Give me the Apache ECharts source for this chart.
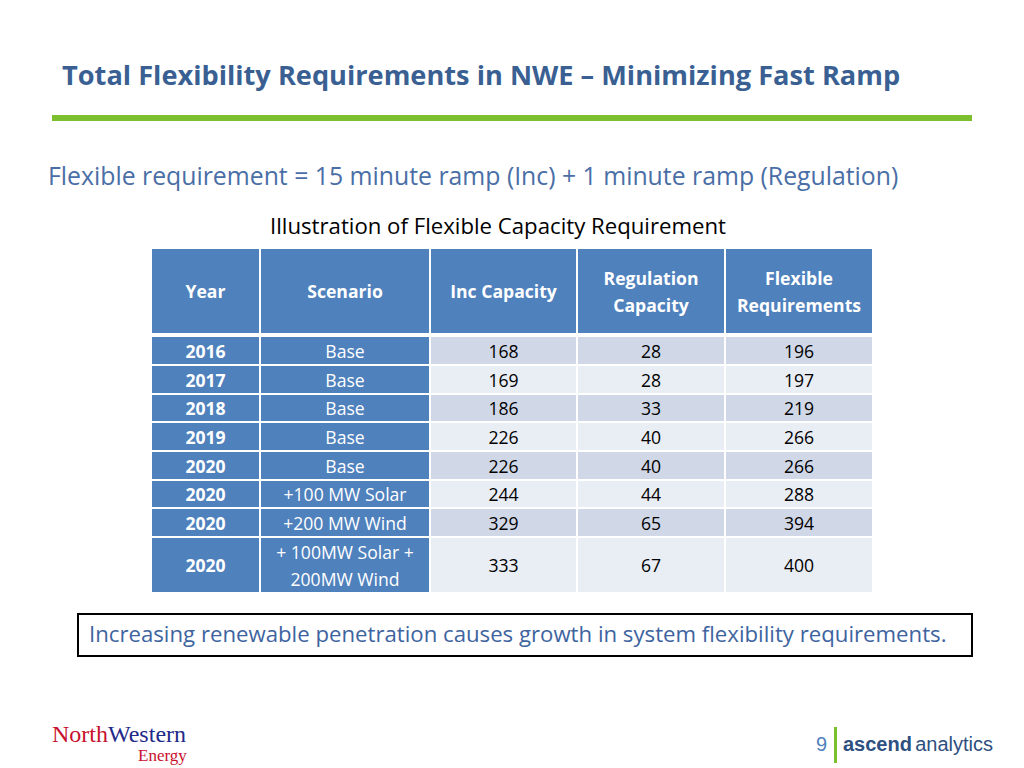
<!DOCTYPE html>
<html><head><meta charset="utf-8">
<script src="https://cdn.jsdelivr.net/npm/echarts@6/dist/echarts.min.js"></script>
<style>html,body{margin:0;padding:0;background:#fff}#c{width:1024px;height:768px}</style>
</head><body><div id="c"></div>
<script>
// ---- data ----
const headers = ['Year', 'Scenario', 'Inc Capacity', 'Regulation\nCapacity', 'Flexible\nRequirements'];
const years = ['2016', '2017', '2018', '2019', '2020', '2020', '2020', '2020'];
const scenarios = ['Base', 'Base', 'Base', 'Base', 'Base', '+100 MW Solar', '+200 MW Wind', '+ 100MW Solar +\n200MW Wind'];
const incCapacity = [168, 169, 186, 226, 226, 244, 329, 333];
const regulationCapacity = [28, 28, 33, 40, 40, 44, 65, 67];
const flexibleRequirements = [196, 197, 219, 266, 266, 288, 394, 400];

// ---- layout (table units) ----
const colEdges = [0, 108, 278, 425, 573, 720];
const rowEdges = [0, 84, 88, 116, 145, 173, 202, 231, 259, 288, 343]; // header: 0-84, data rows from 88

const FONT = '"Open Sans", Lato, sans-serif';
const BLUE = '#4f81bd';
const DARK = '#d0d8e8';
const LIGHT = '#e9edf4';

const cells = [];
headers.forEach((h, c) => cells.push({ value: [c, -1], text: h, kind: 'head' }));
years.forEach((y, r) => {
  const vals = [y, scenarios[r], incCapacity[r], regulationCapacity[r], flexibleRequirements[r]];
  vals.forEach((v, c) => cells.push({ value: [c, r], text: String(v), kind: c === 0 ? 'year' : (c === 1 ? 'scen' : 'num'), row: r }));
});

function rowSpan(r) {
  if (r === -1) return [rowEdges[0], rowEdges[1]];
  return [rowEdges[r + 2], rowEdges[r + 3]];
}

const chart = echarts.init(document.getElementById('c'), null, { renderer: 'svg' });
chart.setOption({
  backgroundColor: '#fff',
  animation: false,
  grid: { left: 152, top: 249, width: 720, height: 343 },
  xAxis: { type: 'value', min: 0, max: 720, show: false },
  yAxis: { type: 'value', min: 0, max: 343, inverse: true, show: false },
  series: [{
    type: 'custom',
    data: cells,
    renderItem: function (params, api) {
      const d = cells[params.dataIndex];
      const c = d.value[0], r = d.value[1];
      const [y0, y1] = rowSpan(r);
      const p0 = api.coord([colEdges[c], y0]);
      const p1 = api.coord([colEdges[c + 1], y1]);
      const gap = 1;
      const x = p0[0] + (c === 0 ? 0 : gap), w = p1[0] - p0[0] - (c === 0 ? 0 : gap) - (c === 4 ? 0 : gap);
      const y = p0[1] + (r <= 0 ? 0 : gap), h = p1[1] - p0[1] - (r <= 0 ? 0 : gap) - (r === 7 || r === -1 ? 0 : gap);
      let fill, color = '#000', weight = 'normal';
      if (d.kind === 'head') { fill = BLUE; color = '#fff'; weight = 'bold'; }
      else if (d.kind === 'year') { fill = BLUE; color = '#fff'; weight = 'bold'; }
      else if (d.kind === 'scen') { fill = BLUE; color = '#fff'; }
      else { fill = (r % 2 === 0) ? DARK : LIGHT; }
      return {
        type: 'group',
        children: [
          { type: 'rect', shape: { x: x, y: y, width: w, height: h }, style: { fill: fill } },
          { type: 'text', x: x + w / 2, y: y + h / 2,
            style: { text: d.text, fill: color, fontFamily: FONT, fontSize: 17.6, fontWeight: weight,
                     align: 'center', verticalAlign: 'middle', lineHeight: 27 } }
        ]
      };
    }
  }],
  graphic: [
    { type: 'text', left: 62, top: 61, style: { text: 'Total Flexibility Requirements in NWE \u2013 Minimizing Fast Ramp', fill: '#3a5f92', fontFamily: FONT, fontSize: 27.2, fontWeight: 'bold' } },
    { type: 'rect', shape: { x: 52, y: 115, width: 920, height: 6 }, style: { fill: '#7dc02f' } },
    { type: 'text', left: 48, top: 162, style: { text: 'Flexible requirement = 15 minute ramp (Inc) + 1 minute ramp (Regulation)', fill: '#4a6ea6', fontFamily: FONT, fontSize: 24.8 } },
    { type: 'text', left: 270, top: 214, style: { text: 'Illustration of Flexible Capacity Requirement', fill: '#000', fontFamily: FONT, fontSize: 22.2 } },
    { type: 'rect', shape: { x: 78, y: 614, width: 894, height: 42 }, style: { fill: '#fff', stroke: '#000', lineWidth: 2 } },
    { type: 'text', left: 89, top: 622, style: { text: 'Increasing renewable penetration causes growth in system flexibility requirements.', fill: '#3e64a0', fontFamily: FONT, fontSize: 22.2 } },
    { type: 'text', left: 52, top: 722, style: { rich: { a: { fill: '#c8102e', fontFamily: '"Liberation Serif", serif', fontSize: 24 }, b: { fill: '#1f2a8a', fontFamily: '"Liberation Serif", serif', fontSize: 24 } }, text: '{a|North}{b|Western}' } },
    { type: 'text', left: 138, top: 747, style: { text: 'Energy', fill: '#c8102e', fontFamily: '"Liberation Serif", serif', fontSize: 17 } },
    { type: 'text', left: 816, top: 734, style: { text: '9', fill: '#4f81bd', fontFamily: '"Liberation Sans", sans-serif', fontSize: 20 } },
    { type: 'rect', shape: { x: 834, y: 727, width: 3, height: 36 }, style: { fill: '#7dc02f' } },
    { type: 'text', left: 843, top: 734, style: { rich: { a: { fill: '#2e4f80', fontFamily: '"Liberation Sans", sans-serif', fontSize: 20, fontWeight: 'bold' }, b: { fill: '#2e4f80', fontFamily: '"Liberation Sans", sans-serif', fontSize: 20 } }, text: '{a|ascend} {b|analytics}' } }
  ]
});
</script>
</body></html>
